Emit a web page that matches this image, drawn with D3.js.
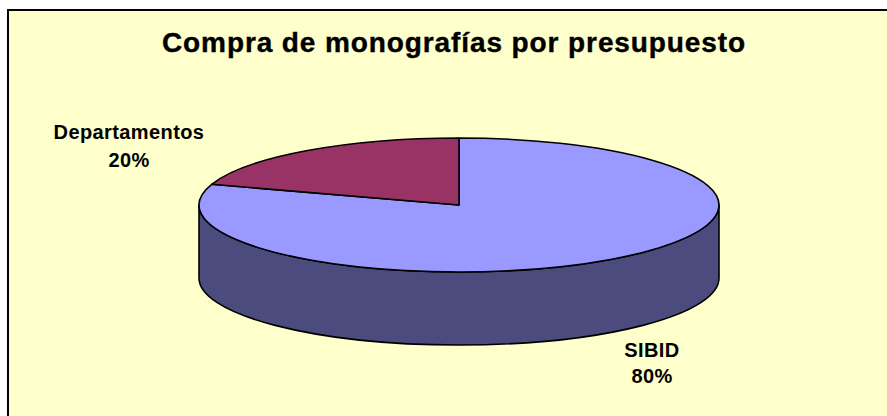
<!DOCTYPE html>
<html>
<head>
<meta charset="utf-8">
<script src="https://cdn.jsdelivr.net/npm/d3@7"></script>
<style>
  body { margin: 0; background: #fff; }
  text { font-family: "Liberation Sans", Arial, sans-serif; font-weight: bold; fill: #000; }
</style>
</head>
<body>
<div id="wrapper"></div>
<script>
// data
const categories = ["SIBID", "Departamentos"];
const values = [80, 20];
const colors = ["#9999FF", "#993366"];
const sideColors = ["#4B4B7D", "#5C1F3D"];
const title = "Compra de monografías por presupuesto";

// dimensions
const dms = { width: 887, height: 416 };
const cx = 459, cy = 205, rx = 260, ry = 67, depth = 73;

const svg = d3.select("#wrapper")
  .append("svg")
    .attr("width", dms.width)
    .attr("height", dms.height);

// chart area (cropped on right and bottom)
svg.append("rect")
  .attr("x", 8).attr("y", 10)
  .attr("width", dms.width + 10).attr("height", dms.height + 10)
  .attr("fill", "#FFFFCC")
  .attr("stroke", "#000")
  .attr("stroke-width", 2);

svg.append("text")
  .attr("x", 454).attr("y", 52)
  .attr("text-anchor", "middle")
  .style("font-size", "28px")
  .style("letter-spacing", "0.9px")
  .style("stroke", "#000")
  .style("stroke-width", "0.4px")
  .text(title);

// pie angles: SIBID starts at 12 o'clock going clockwise
const pie = d3.pie().sort(null).value(d => d.value);
const arcs = pie(categories.map((c, i) => ({ name: c, value: values[i], i })));

const pt = (a, dy = 0) => [cx + rx * Math.sin(a), cy - ry * Math.cos(a) + dy];

const inner = svg.append("g");

// side walls: visible front from PI/2 to 3PI/2
arcs.forEach(d => {
  const a0 = Math.max(d.startAngle, Math.PI / 2);
  const a1 = Math.min(d.endAngle, 3 * Math.PI / 2);
  if (a1 <= a0) return;
  const p0 = pt(a0), p1 = pt(a1), q1 = pt(a1, depth), q0 = pt(a0, depth);
  const path = `M${p0}A${rx},${ry} 0 0 1 ${p1}L${q1}A${rx},${ry} 0 0 0 ${q0}Z`;
  inner.append("path")
    .attr("d", path)
    .attr("fill", sideColors[d.data.i])
    .attr("stroke", "#000")
    .attr("stroke-width", 1.6)
    .attr("stroke-linejoin", "round");
});

// top faces
arcs.forEach(d => {
  const p0 = pt(d.startAngle), p1 = pt(d.endAngle);
  const large = d.endAngle - d.startAngle > Math.PI ? 1 : 0;
  inner.append("path")
    .attr("d", `M${cx},${cy}L${p0}A${rx},${ry} 0 ${large} 1 ${p1}Z`)
    .attr("fill", colors[d.data.i])
    .attr("stroke", "#000")
    .attr("stroke-width", 1.6)
    .attr("stroke-linejoin", "round");
});

// labels
const labelPos = [[652, 357, 26], [129, 139, 28]];
arcs.forEach(d => {
  const [lx, ly, gap] = labelPos[d.data.i];
  const t = svg.append("text")
    .attr("x", lx).attr("y", ly)
    .attr("text-anchor", "middle")
    .style("font-size", "20px")
    .style("letter-spacing", "0.4px");
  t.append("tspan").attr("x", lx).text(d.data.name);
  t.append("tspan").attr("x", lx).attr("dy", gap)
    .text(Math.round(d.data.value / d3.sum(values) * 100) + "%");
});
</script>
</body>
</html>
